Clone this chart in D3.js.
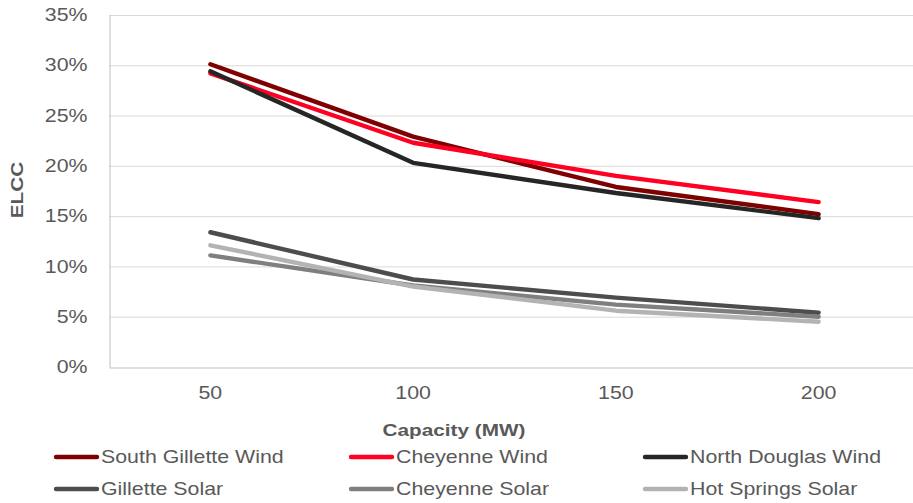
<!DOCTYPE html>
<html>
<head>
<meta charset="utf-8">
<script src="https://cdn.jsdelivr.net/npm/d3@7"></script>
<style>
  html, body { margin: 0; padding: 0; background: #fff; }
  svg { display: block; font-family: "Liberation Sans", Arial, sans-serif; }
</style>
</head>
<body>
<svg id="chart" width="913" height="503"></svg>
<script>
// Capacity steps (MW)
const capacities = ["50", "100", "150", "200"];

// ELCC (%) for each resource
const southGilletteWind = [30.1, 22.9, 17.9, 15.2];
const cheyenneWind      = [29.2, 22.3, 19.0, 16.4];
const northDouglasWind  = [29.4, 20.3, 17.3, 14.8];
const gilletteSolar     = [13.4, 8.7, 6.9, 5.4];
const cheyenneSolar     = [11.1, 8.1, 6.2, 5.0];
const hotSpringsSolar   = [12.1, 8.0, 5.6, 4.5];

const yTicks = [0, 5, 10, 15, 20, 25, 30, 35];

const series = [
  { name: "South Gillette Wind", values: southGilletteWind, color: "#7f0000" },
  { name: "Cheyenne Wind",       values: cheyenneWind,      color: "#ff0022" },
  { name: "North Douglas Wind",  values: northDouglasWind,  color: "#262626" },
  { name: "Gillette Solar",      values: gilletteSolar,     color: "#4d4d4d" },
  { name: "Cheyenne Solar",      values: cheyenneSolar,     color: "#7f7f7f" },
  { name: "Hot Springs Solar",   values: hotSpringsSolar,   color: "#b3b3b3" }
];

// labels are drawn with a wide horizontal stretch
const STRETCH = 1.22;
const FONT = "Liberation Sans, Arial, sans-serif";

const svg = d3.select("#chart");
const plot = { left: 109, right: 920, top: 15, bottom: 367 };

const x = d3.scaleBand().domain(capacities).range([plot.left, plot.right]).padding(0);
const y = d3.scaleLinear().domain([0, 35]).range([plot.bottom, plot.top]);

// move a text's x offset into a transform so the stretch pivots on its anchor
function stretchText(sel) {
  sel.each(function () {
    const t = d3.select(this);
    const tx = +t.attr("x") || 0;
    const ty = +t.attr("y") || 0;
    t.attr("x", 0).attr("y", 0)
     .attr("transform", `translate(${tx},${ty}) scale(${STRETCH},1)`);
  });
}

// horizontal gridlines
svg.append("g")
  .selectAll("line")
  .data(yTicks.filter(d => d > 0))
  .join("line")
  .attr("x1", plot.left).attr("x2", plot.right)
  .attr("y1", d => y(d) + 0.5).attr("y2", d => y(d) + 0.5)
  .attr("stroke", "#d9d9d9").attr("stroke-width", 1);

// y axis
const yAxis = svg.append("g")
  .attr("transform", `translate(${plot.left + 0.5},0)`)
  .call(d3.axisLeft(y).tickValues(yTicks).tickFormat(d => d + "%").tickSize(0).tickPadding(22));
yAxis.select(".domain").attr("stroke", "#bfbfbf");
yAxis.selectAll("text").attr("fill", "#595959").style("font-size", "17.5px")
  .style("font-family", FONT).call(stretchText);

// x axis
const xAxis = svg.append("g")
  .attr("transform", `translate(0,${plot.bottom + 0.5})`)
  .call(d3.axisBottom(x).tickSize(0).tickPadding(19));
xAxis.select(".domain").attr("stroke", "#bfbfbf");
xAxis.selectAll("text").attr("fill", "#595959").style("font-size", "17.5px")
  .style("font-family", FONT).call(stretchText);

// axis titles
svg.append("text")
  .attr("transform", `translate(23,190) rotate(-90) scale(${STRETCH},1)`)
  .attr("text-anchor", "middle")
  .attr("fill", "#595959")
  .style("font-size", "17px").style("font-weight", "bold")
  .text("ELCC");

svg.append("text")
  .attr("transform", `translate(454,436) scale(${STRETCH},1)`)
  .attr("text-anchor", "middle")
  .attr("fill", "#595959")
  .style("font-size", "17px").style("font-weight", "bold")
  .text("Capacity (MW)");

// lines
const line = d3.line()
  .x((d, i) => x(capacities[i]) + x.bandwidth() / 2)
  .y(d => y(d));

svg.append("g")
  .selectAll("path")
  .data(series)
  .join("path")
  .attr("d", d => line(d.values))
  .attr("fill", "none")
  .attr("stroke", d => d.color)
  .attr("stroke-width", 4.4)
  .attr("stroke-linejoin", "round")
  .attr("stroke-linecap", "round");

// legend: 3 columns, 2 rows
const legendCols = [54, 349, 643];
const legendRows = [457, 489];
const legend = svg.append("g")
  .selectAll("g")
  .data(series)
  .join("g")
  .attr("transform", (d, i) => `translate(${legendCols[i % 3]},${legendRows[Math.floor(i / 3)]})`);

legend.append("line")
  .attr("x1", 2).attr("x2", 43)
  .attr("stroke", d => d.color)
  .attr("stroke-width", 4.4)
  .attr("stroke-linecap", "round");

legend.append("text")
  .attr("transform", `translate(47,0) scale(${STRETCH},1)`)
  .attr("dy", "0.35em")
  .attr("fill", "#595959")
  .style("font-size", "17.5px")
  .text(d => d.name);
</script>
</body>
</html>
